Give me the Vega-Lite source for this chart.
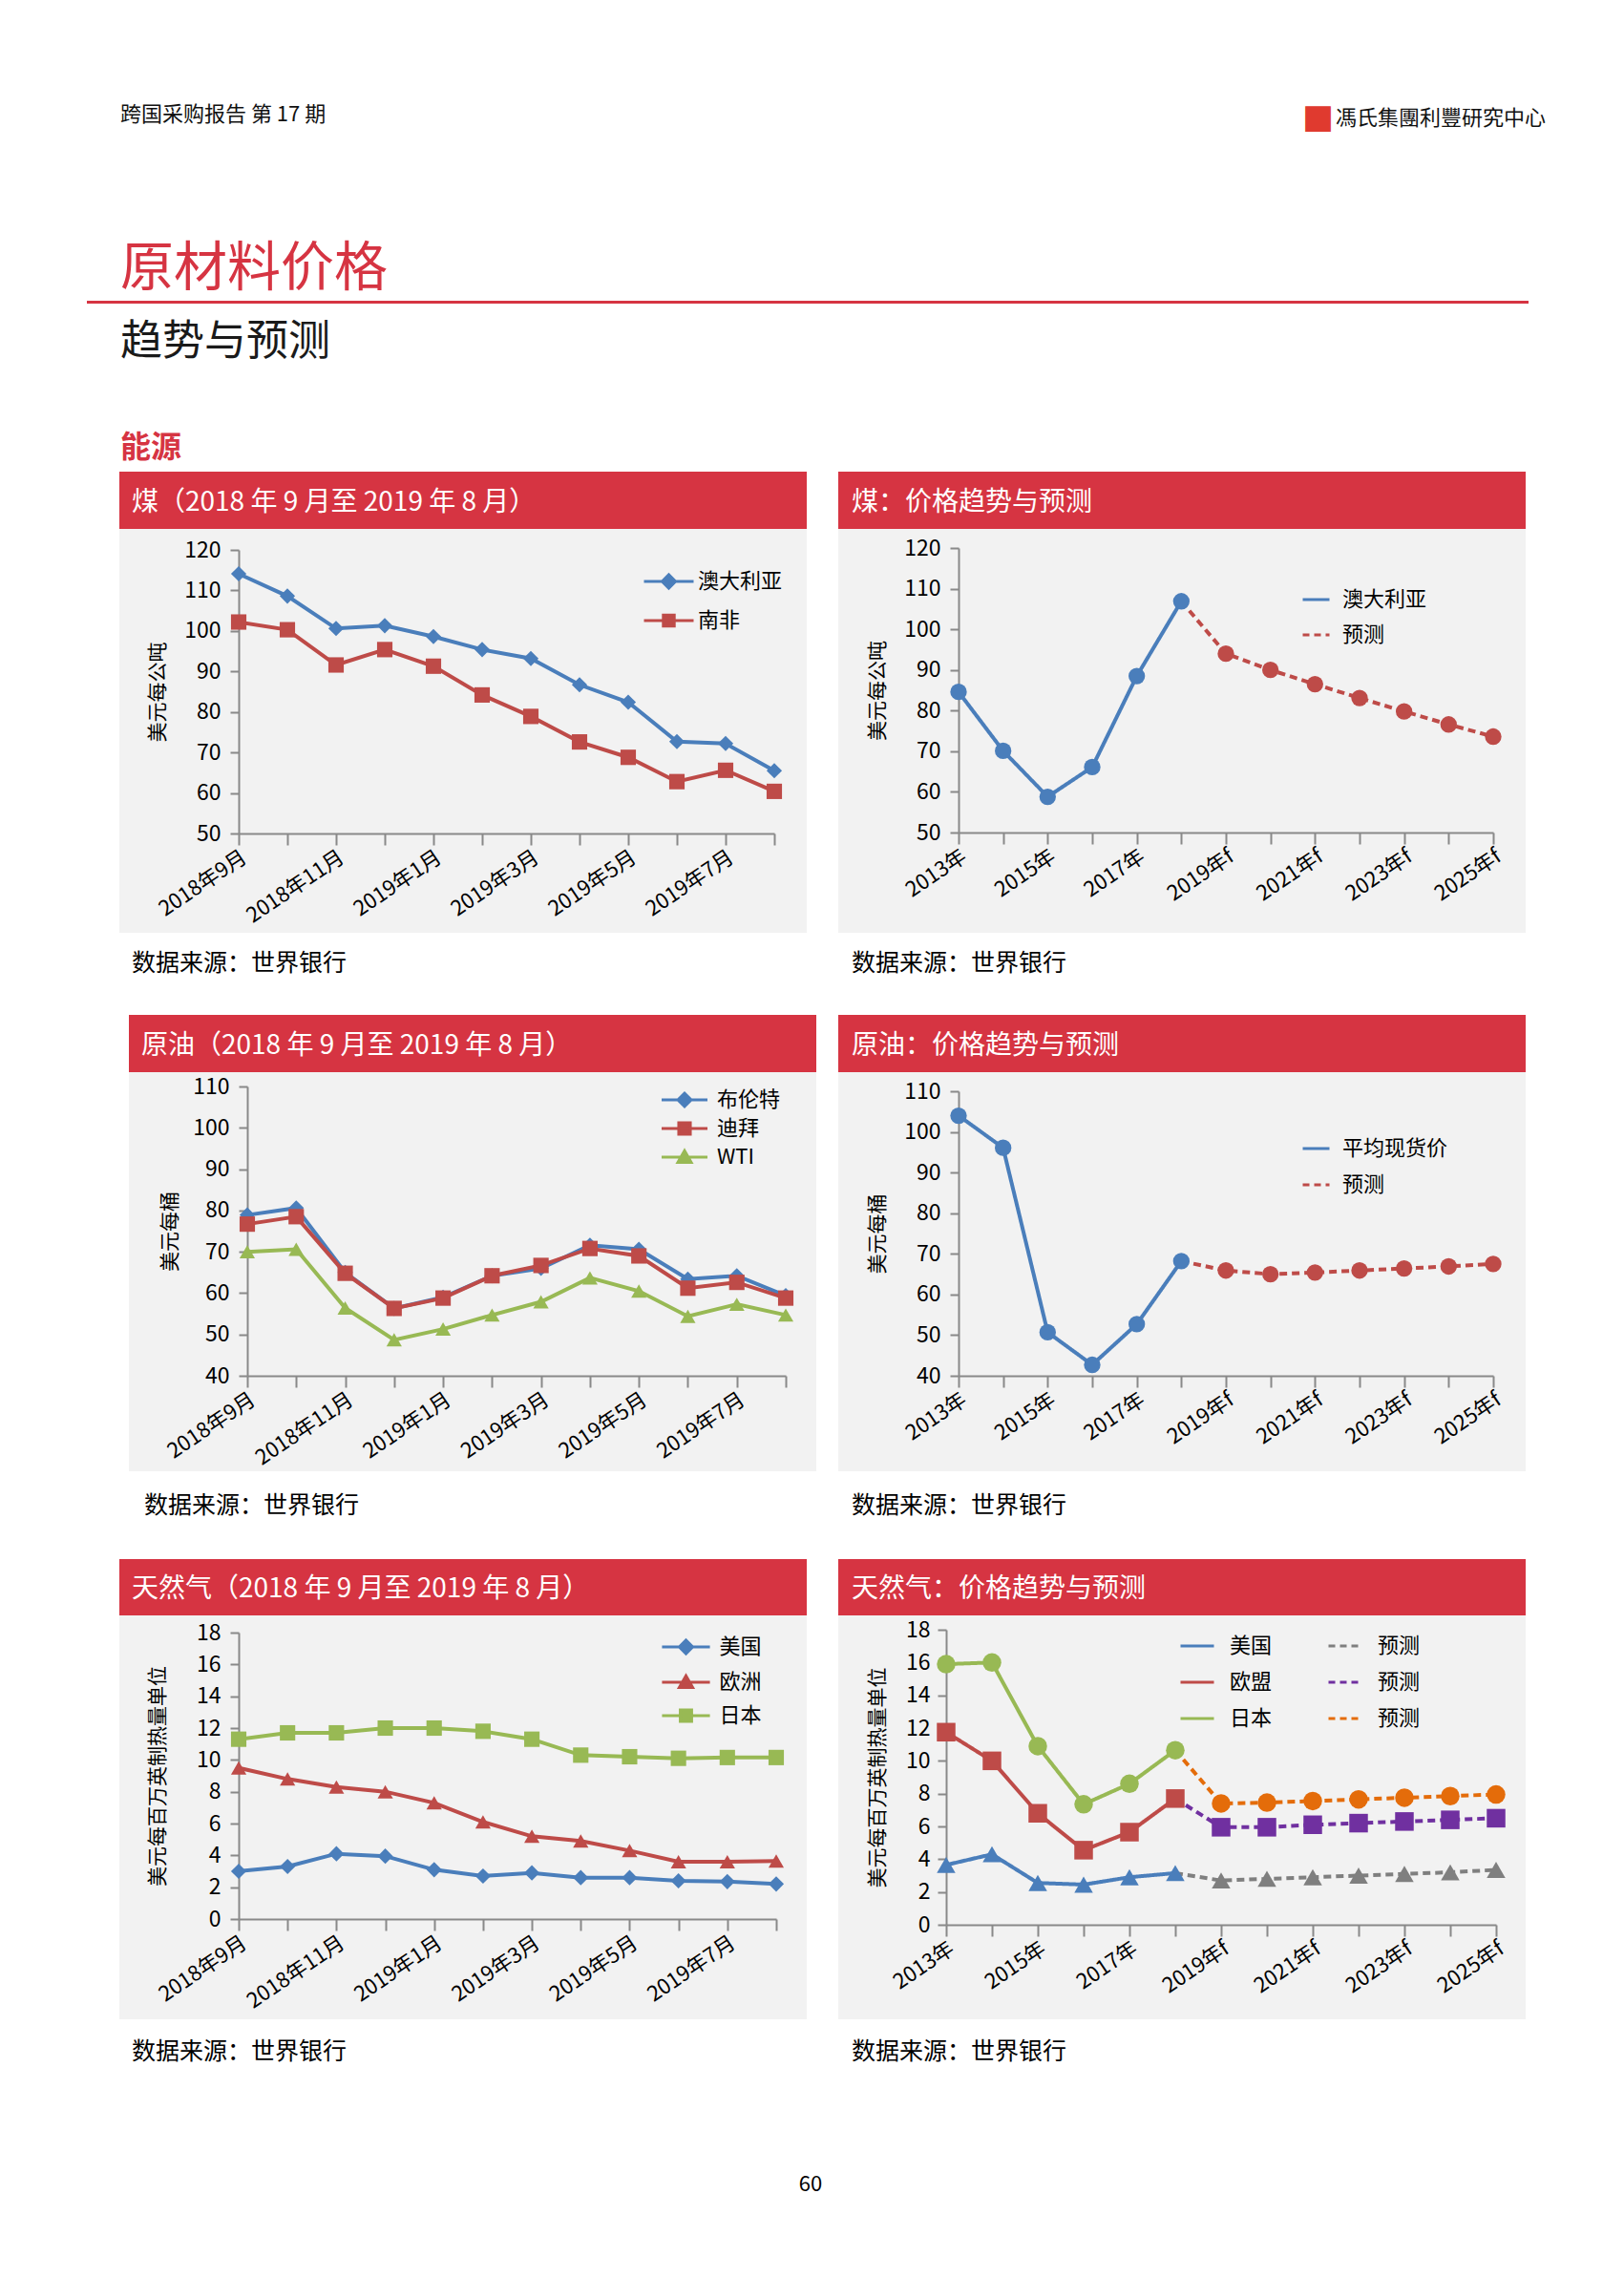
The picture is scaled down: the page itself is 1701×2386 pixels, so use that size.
{
"$schema": "https://vega.github.io/schema/vega-lite/v6.json",
"background": "#ffffff",
"padding": {"left": 91, "top": 0, "right": 0, "bottom": 0},
"config": {
  "view": {"stroke": null},
  "font": "Noto Sans CJK SC",
  "axis": {"grid": false, "domainColor": "#898989", "tickColor": "#898989", "domainWidth": 2, "tickWidth": 2, "labelColor": "#000000", "titleColor": "#000000", "labelFont": "Noto Sans CJK SC", "titleFont": "Noto Sans CJK SC", "labelFontSize": 23, "titleFontSize": 21, "titleFontWeight": "normal"},
  "legend": {"labelFont": "Noto Sans CJK SC", "labelFontSize": 22, "labelColor": "#000000", "padding": 0, "symbolStrokeWidth": 3},
  "title": {"font": "Noto Sans CJK SC", "fontWeight": "normal", "frame": "group", "orient": "top"}
},
"datasets": {
  "blank": [{}],
  "coalM": [
    {"x":"2018年9月","s":"澳大利亚","v":114.1},{"x":"2018年10月","s":"澳大利亚","v":108.6},{"x":"2018年11月","s":"澳大利亚","v":100.6},{"x":"2018年12月","s":"澳大利亚","v":101.3},{"x":"2019年1月","s":"澳大利亚","v":98.6},{"x":"2019年2月","s":"澳大利亚","v":95.4},{"x":"2019年3月","s":"澳大利亚","v":93.2},{"x":"2019年4月","s":"澳大利亚","v":86.7},{"x":"2019年5月","s":"澳大利亚","v":82.4},{"x":"2019年6月","s":"澳大利亚","v":72.7},{"x":"2019年7月","s":"澳大利亚","v":72.2},{"x":"2019年8月","s":"澳大利亚","v":65.5},
    {"x":"2018年9月","s":"南非","v":102.2},{"x":"2018年10月","s":"南非","v":100.3},{"x":"2018年11月","s":"南非","v":91.6},{"x":"2018年12月","s":"南非","v":95.4},{"x":"2019年1月","s":"南非","v":91.3},{"x":"2019年2月","s":"南非","v":84.2},{"x":"2019年3月","s":"南非","v":78.9},{"x":"2019年4月","s":"南非","v":72.6},{"x":"2019年5月","s":"南非","v":68.8},{"x":"2019年6月","s":"南非","v":62.8},{"x":"2019年7月","s":"南非","v":65.6},{"x":"2019年8月","s":"南非","v":60.4}
  ],
  "coalY": [
    {"x":"2013年","s":"澳大利亚","v":84.6},{"x":"2014年","s":"澳大利亚","v":70.1},{"x":"2015年","s":"澳大利亚","v":58.8},{"x":"2016年","s":"澳大利亚","v":66.1},{"x":"2017年","s":"澳大利亚","v":88.5},{"x":"2018年","s":"澳大利亚","v":106.9},
    {"x":"2018年","s":"预测","v":106.9},{"x":"2019年f","s":"预测","v":94.0},{"x":"2020年f","s":"预测","v":90.0},{"x":"2021年f","s":"预测","v":86.5},{"x":"2022年f","s":"预测","v":83.1},{"x":"2023年f","s":"预测","v":79.8},{"x":"2024年f","s":"预测","v":76.6},{"x":"2025年f","s":"预测","v":73.6}
  ],
  "oilM": [
    {"x":"2018年9月","s":"布伦特","v":78.9},{"x":"2018年10月","s":"布伦特","v":80.6},{"x":"2018年11月","s":"布伦特","v":65.0},{"x":"2018年12月","s":"布伦特","v":56.3},{"x":"2019年1月","s":"布伦特","v":59.0},{"x":"2019年2月","s":"布伦特","v":64.2},{"x":"2019年3月","s":"布伦特","v":66.0},{"x":"2019年4月","s":"布伦特","v":71.6},{"x":"2019年5月","s":"布伦特","v":70.6},{"x":"2019年6月","s":"布伦特","v":63.4},{"x":"2019年7月","s":"布伦特","v":64.2},{"x":"2019年8月","s":"布伦特","v":59.4},
    {"x":"2018年9月","s":"迪拜","v":76.7},{"x":"2018年10月","s":"迪拜","v":78.5},{"x":"2018年11月","s":"迪拜","v":64.8},{"x":"2018年12月","s":"迪拜","v":56.3},{"x":"2019年1月","s":"迪拜","v":58.8},{"x":"2019年2月","s":"迪拜","v":64.2},{"x":"2019年3月","s":"迪拜","v":66.7},{"x":"2019年4月","s":"迪拜","v":70.8},{"x":"2019年5月","s":"迪拜","v":69.0},{"x":"2019年6月","s":"迪拜","v":61.2},{"x":"2019年7月","s":"迪拜","v":62.6},{"x":"2019年8月","s":"迪拜","v":58.8},
    {"x":"2018年9月","s":"WTI","v":70.0},{"x":"2018年10月","s":"WTI","v":70.6},{"x":"2018年11月","s":"WTI","v":56.4},{"x":"2018年12月","s":"WTI","v":48.7},{"x":"2019年1月","s":"WTI","v":51.3},{"x":"2019年2月","s":"WTI","v":54.7},{"x":"2019年3月","s":"WTI","v":57.9},{"x":"2019年4月","s":"WTI","v":63.7},{"x":"2019年5月","s":"WTI","v":60.5},{"x":"2019年6月","s":"WTI","v":54.4},{"x":"2019年7月","s":"WTI","v":57.3},{"x":"2019年8月","s":"WTI","v":54.7}
  ],
  "oilY": [
    {"x":"2013年","s":"平均现货价","v":104.0},{"x":"2014年","s":"平均现货价","v":96.1},{"x":"2015年","s":"平均现货价","v":50.7},{"x":"2016年","s":"平均现货价","v":42.7},{"x":"2017年","s":"平均现货价","v":52.7},{"x":"2018年","s":"平均现货价","v":68.2},
    {"x":"2018年","s":"预测","v":68.2},{"x":"2019年f","s":"预测","v":65.9},{"x":"2020年f","s":"预测","v":65.0},{"x":"2021年f","s":"预测","v":65.4},{"x":"2022年f","s":"预测","v":65.9},{"x":"2023年f","s":"预测","v":66.4},{"x":"2024年f","s":"预测","v":66.9},{"x":"2025年f","s":"预测","v":67.5}
  ],
  "gasM": [
    {"x":"2018年9月","s":"美国","v":3.0},{"x":"2018年10月","s":"美国","v":3.3},{"x":"2018年11月","s":"美国","v":4.1},{"x":"2018年12月","s":"美国","v":3.95},{"x":"2019年1月","s":"美国","v":3.1},{"x":"2019年2月","s":"美国","v":2.7},{"x":"2019年3月","s":"美国","v":2.9},{"x":"2019年4月","s":"美国","v":2.6},{"x":"2019年5月","s":"美国","v":2.6},{"x":"2019年6月","s":"美国","v":2.4},{"x":"2019年7月","s":"美国","v":2.35},{"x":"2019年8月","s":"美国","v":2.2},
    {"x":"2018年9月","s":"欧洲","v":9.5},{"x":"2018年10月","s":"欧洲","v":8.8},{"x":"2018年11月","s":"欧洲","v":8.3},{"x":"2018年12月","s":"欧洲","v":8.0},{"x":"2019年1月","s":"欧洲","v":7.3},{"x":"2019年2月","s":"欧洲","v":6.1},{"x":"2019年3月","s":"欧洲","v":5.2},{"x":"2019年4月","s":"欧洲","v":4.9},{"x":"2019年5月","s":"欧洲","v":4.3},{"x":"2019年6月","s":"欧洲","v":3.6},{"x":"2019年7月","s":"欧洲","v":3.6},{"x":"2019年8月","s":"欧洲","v":3.65},
    {"x":"2018年9月","s":"日本","v":11.3},{"x":"2018年10月","s":"日本","v":11.7},{"x":"2018年11月","s":"日本","v":11.7},{"x":"2018年12月","s":"日本","v":12.0},{"x":"2019年1月","s":"日本","v":12.0},{"x":"2019年2月","s":"日本","v":11.8},{"x":"2019年3月","s":"日本","v":11.3},{"x":"2019年4月","s":"日本","v":10.3},{"x":"2019年5月","s":"日本","v":10.2},{"x":"2019年6月","s":"日本","v":10.1},{"x":"2019年7月","s":"日本","v":10.15},{"x":"2019年8月","s":"日本","v":10.15}
  ],
  "gasY": [
    {"x":"2013年","s":"美国","v":3.65},{"x":"2014年","s":"美国","v":4.3},{"x":"2015年","s":"美国","v":2.55},{"x":"2016年","s":"美国","v":2.45},{"x":"2017年","s":"美国","v":2.9},{"x":"2018年","s":"美国","v":3.15},
    {"x":"2018年","s":"预测美","v":3.15},{"x":"2019年f","s":"预测美","v":2.7},{"x":"2020年f","s":"预测美","v":2.8},{"x":"2021年f","s":"预测美","v":2.9},{"x":"2022年f","s":"预测美","v":3.0},{"x":"2023年f","s":"预测美","v":3.1},{"x":"2024年f","s":"预测美","v":3.2},{"x":"2025年f","s":"预测美","v":3.35},
    {"x":"2013年","s":"欧盟","v":11.75},{"x":"2014年","s":"欧盟","v":10.0},{"x":"2015年","s":"欧盟","v":6.8},{"x":"2016年","s":"欧盟","v":4.55},{"x":"2017年","s":"欧盟","v":5.65},{"x":"2018年","s":"欧盟","v":7.7},
    {"x":"2018年","s":"预测欧","v":7.7},{"x":"2019年f","s":"预测欧","v":5.95},{"x":"2020年f","s":"预测欧","v":5.95},{"x":"2021年f","s":"预测欧","v":6.1},{"x":"2022年f","s":"预测欧","v":6.2},{"x":"2023年f","s":"预测欧","v":6.3},{"x":"2024年f","s":"预测欧","v":6.4},{"x":"2025年f","s":"预测欧","v":6.5},
    {"x":"2013年","s":"日本","v":15.9},{"x":"2014年","s":"日本","v":16.0},{"x":"2015年","s":"日本","v":10.9},{"x":"2016年","s":"日本","v":7.35},{"x":"2017年","s":"日本","v":8.6},{"x":"2018年","s":"日本","v":10.65},
    {"x":"2018年","s":"预测日","v":10.65},{"x":"2019年f","s":"预测日","v":7.4},{"x":"2020年f","s":"预测日","v":7.45},{"x":"2021年f","s":"预测日","v":7.55},{"x":"2022年f","s":"预测日","v":7.65},{"x":"2023年f","s":"预测日","v":7.75},{"x":"2024年f","s":"预测日","v":7.85},{"x":"2025年f","s":"预测日","v":7.95}
  ]
},
"spacing": 0,
"resolve": {"scale": {"color": "independent", "shape": "independent", "strokeDash": "independent"}, "legend": {"color": "independent", "shape": "independent", "strokeDash": "independent"}},
"vconcat": [
  {"hconcat": [
    {"width": 1273, "height": 208, "data": {"name": "blank"}, "mark": {"type": "text", "fontSize": 0}, "encoding": {"text": {"value": ""}},
     "title": {"text": "跨国采购报告 第 17 期", "anchor": "start", "offset": -132, "dx": 35, "fontSize": 22, "color": "#111111"}},
    {"width": 28, "height": 208, "data": {"name": "blank"}, "mark": {"type": "text", "fontSize": 0}, "encoding": {"text": {"value": ""}},
     "title": {"text": "■", "anchor": "start", "offset": -141, "dx": -1, "fontSize": 35, "color": "#e03a2f", "font": "DejaVu Sans"}},
    {"width": 209, "height": 208, "data": {"name": "blank"}, "mark": {"type": "text", "fontSize": 0}, "encoding": {"text": {"value": ""}},
     "title": {"text": "馮氏集團利豐研究中心", "anchor": "end", "offset": -136, "dx": 9, "fontSize": 22, "color": "#111111", "font": "Noto Sans CJK TC"}}
  ], "spacing": 0},
  {"width": 1510, "height": 107, "data": {"name": "blank"}, "mark": {"type": "text", "fontSize": 0}, "encoding": {"text": {"value": ""}},
   "title": {"text": "原材料价格", "anchor": "start", "offset": -103, "dx": 35, "fontSize": 56, "color": "#d63442"}},
  {"width": 1510, "height": 3, "view": {"fill": "#d63442", "stroke": null}, "data": {"name": "blank"}, "mark": {"type": "text", "fontSize": 0}, "encoding": {"text": {"value": ""}}},
  {"width": 1510, "height": 120, "data": {"name": "blank"}, "mark": {"type": "text", "fontSize": 0}, "encoding": {"text": {"value": ""}},
   "title": {"text": "趋势与预测", "anchor": "start", "offset": -63, "dx": 35, "fontSize": 44, "color": "#1a1a1a"}},
  {"width": 1510, "height": 56, "data": {"name": "blank"}, "mark": {"type": "text", "fontSize": 0}, "encoding": {"text": {"value": ""}},
   "title": {"text": "能源", "anchor": "start", "offset": -47.9, "dx": 35, "fontSize": 32, "fontWeight": "bold", "color": "#d63442"}},
  {"resolve": {"scale": {"color": "independent", "shape": "independent", "strokeDash": "independent"}, "legend": {"color": "independent", "shape": "independent", "strokeDash": "independent"}},
   "hconcat": [
    {"width": 1, "height": 400, "data": {"name": "blank"}, "mark": {"type": "text", "fontSize": 0}, "encoding": {"text": {"value": ""}}},
    {"resolve": {"scale": {"color": "independent", "shape": "independent", "strokeDash": "independent"}, "legend": {"color": "independent", "shape": "independent", "strokeDash": "independent"}},
     "vconcat": [
      {"width": 720, "height": 60, "view": {"fill": "#d63442", "stroke": null}, "data": {"name": "blank"}, "mark": {"type": "text", "fontSize": 0}, "encoding": {"text": {"value": ""}},
       "title": {"text": "煤（2018 年 9 月至 2019 年 8 月）", "anchor": "start", "offset": -46.5, "dx": 13, "fontSize": 28, "color": "#ffffff"}},
      {"width": 720, "height": 423, "view": {"fill": "#f2f2f2", "stroke": null}, "data": {"name": "coalM"},
       "encoding": {
         "x": {"field": "x", "type": "ordinal", "scale": {"type": "point", "domain": ["2018年9月","2018年10月","2018年11月","2018年12月","2019年1月","2019年2月","2019年3月","2019年4月","2019年5月","2019年6月","2019年7月","2019年8月"], "range": [125, 686], "padding": 0},
               "axis": {"orient": "bottom", "offset": -104, "title": null, "tickSize": 12, "labelPadding": 2, "labelAngle": -34, "labelAlign": "right", "labelBaseline": "top", "labelFontSize": 22, "labelOverlap": false, "labelExpr": "indexof(['2018年9月','2018年11月','2019年1月','2019年3月','2019年5月','2019年7月'], datum.value) >= 0 ? datum.label : ''"}},
         "y": {"field": "v", "type": "quantitative", "scale": {"domain": [50, 120], "range": [319, 22], "nice": false, "zero": false},
               "axis": {"orient": "left", "offset": -125, "values": [50,60,70,80,90,100,110,120], "title": "美元每公吨", "titleX": -85, "titleBaseline": "middle", "tickSize": 9, "labelPadding": 10}},
         "color": {"field": "s", "type": "nominal", "scale": {"domain": ["澳大利亚","南非"], "range": ["#4a7ebb","#be4b48"]},
               "legend": {"title": null, "orient": "none", "legendX": 548, "legendY": 27.5, "symbolType": "M-1,0H1", "symbolSize": 2704, "labelOffset": 3, "rowPadding": 0,
                 "encode": {"symbols": {"update": {
                   "shape": {"signal": "datum.value === '澳大利亚' ? 'M-1,0H1M-0.27,0L0,-0.27L0.27,0L0,0.27Z' : 'M-1,0H1M-0.22,-0.22H0.22V0.22H-0.22Z'"},
                   "fill": {"signal": "datum.value === '澳大利亚' ? '#4a7ebb' : '#be4b48'"},
                   "stroke": {"signal": "datum.value === '澳大利亚' ? '#4a7ebb' : '#be4b48'"},
                   "opacity": {"value": 1}}}}}}
       },
       "layer": [
         {"mark": {"type": "line", "strokeWidth": 4}, "encoding": {"order": {"value": null}}},
         {"mark": {"type": "point", "filled": true, "opacity": 1, "size": 260}, "encoding": {"shape": {"field": "s", "type": "nominal", "scale": {"domain": ["南非","澳大利亚"], "range": ["square","diamond"]}, "legend": null}}}
       ]},
      {"width": 720, "height": 86, "data": {"name": "blank"}, "mark": {"type": "text", "fontSize": 0}, "encoding": {"text": {"value": ""}},
       "title": {"text": "数据来源：世界银行", "anchor": "start", "offset": -44.75, "dx": 13, "fontSize": 25, "color": "#000000"}}
    ], "spacing": 0},
    {"resolve": {"scale": {"color": "independent", "shape": "independent", "strokeDash": "independent"}, "legend": {"color": "independent", "shape": "independent", "strokeDash": "independent"}},
     "vconcat": [
      {"width": 720, "height": 60, "view": {"fill": "#d63442", "stroke": null}, "data": {"name": "blank"}, "mark": {"type": "text", "fontSize": 0}, "encoding": {"text": {"value": ""}},
       "title": {"text": "煤：价格趋势与预测", "anchor": "start", "offset": -46.5, "dx": 14, "fontSize": 28, "color": "#ffffff"}},
      {"width": 720, "height": 423, "view": {"fill": "#f2f2f2", "stroke": null}, "data": {"name": "coalY"},
       "encoding": {
         "x": {"field": "x", "type": "ordinal", "scale": {"type": "point", "domain": ["2013年","2014年","2015年","2016年","2017年","2018年","2019年f","2020年f","2021年f","2022年f","2023年f","2024年f","2025年f"], "range": [126, 686], "padding": 0},
               "axis": {"orient": "bottom", "offset": -105, "title": null, "tickSize": 12, "labelPadding": 2, "labelAngle": -34, "labelAlign": "right", "labelBaseline": "top", "labelFontSize": 22, "labelOverlap": false, "labelExpr": "indexof(['2013年','2015年','2017年','2019年f','2021年f','2023年f','2025年f'], datum.value) >= 0 ? datum.label : ''"}},
         "y": {"field": "v", "type": "quantitative", "scale": {"domain": [50, 120], "range": [318, 20], "nice": false, "zero": false},
               "axis": {"orient": "left", "offset": -126, "values": [50,60,70,80,90,100,110,120], "title": "美元每公吨", "titleX": -85, "titleBaseline": "middle", "tickSize": 9, "labelPadding": 10}},
         "color": {"field": "s", "type": "nominal", "scale": {"domain": ["澳大利亚","预测"], "range": ["#4a7ebb","#be4b48"]},
               "legend": {"title": null, "orient": "none", "legendX": 485, "legendY": 58.5, "symbolType": "M-1,0H1", "symbolSize": 784, "labelOffset": 12, "rowPadding": 10,
                 "encode": {"symbols": {"update": {
                   "stroke": {"signal": "datum.value === '预测' ? '#be4b48' : '#4a7ebb'"},
                   "strokeDash": {"signal": "datum.value === '预测' ? [7,5] : [1,0]"},
                   "fill": {"value": "transparent"},
                   "opacity": {"value": 1}}}}}}
       },
       "layer": [
         {"mark": {"type": "line", "strokeWidth": 4}, "encoding": {"order": {"value": null}, "strokeDash": {"field": "s", "type": "nominal", "scale": {"domain": ["预测","澳大利亚"], "range": [[8,5],[1,0]]}, "legend": null}}},
         {"transform": [{"filter": "datum.s !== '预测' || datum.x !== '2018年'"}],
          "mark": {"type": "point", "filled": true, "opacity": 1, "size": 300, "shape": "circle"}}
       ]},
      {"width": 720, "height": 86, "data": {"name": "blank"}, "mark": {"type": "text", "fontSize": 0}, "encoding": {"text": {"value": ""}},
       "title": {"text": "数据来源：世界银行", "anchor": "start", "offset": -44.75, "dx": 14, "fontSize": 25, "color": "#000000"}}
    ], "spacing": 0}
  ], "spacing": 33},
  {"resolve": {"scale": {"color": "independent", "shape": "independent", "strokeDash": "independent"}, "legend": {"color": "independent", "shape": "independent", "strokeDash": "independent"}},
   "hconcat": [
    {"width": 21, "height": 400, "data": {"name": "blank"}, "mark": {"type": "text", "fontSize": 0}, "encoding": {"text": {"value": ""}}},
    {"resolve": {"scale": {"color": "independent", "shape": "independent", "strokeDash": "independent"}, "legend": {"color": "independent", "shape": "independent", "strokeDash": "independent"}},
     "vconcat": [
      {"width": 720, "height": 60, "view": {"fill": "#d63442", "stroke": null}, "data": {"name": "blank"}, "mark": {"type": "text", "fontSize": 0}, "encoding": {"text": {"value": ""}},
       "title": {"text": "原油（2018 年 9 月至 2019 年 8 月）", "anchor": "start", "offset": -46.5, "dx": 13, "fontSize": 28, "color": "#ffffff"}},
      {"width": 720, "height": 418, "view": {"fill": "#f2f2f2", "stroke": null}, "data": {"name": "oilM"},
       "encoding": {
         "x": {"field": "x", "type": "ordinal", "scale": {"type": "point", "domain": ["2018年9月","2018年10月","2018年11月","2018年12月","2019年1月","2019年2月","2019年3月","2019年4月","2019年5月","2019年6月","2019年7月","2019年8月"], "range": [124, 688], "padding": 0},
               "axis": {"orient": "bottom", "offset": -100, "title": null, "tickSize": 12, "labelPadding": 2, "labelAngle": -34, "labelAlign": "right", "labelBaseline": "top", "labelFontSize": 22, "labelOverlap": false, "labelExpr": "indexof(['2018年9月','2018年11月','2019年1月','2019年3月','2019年5月','2019年7月'], datum.value) >= 0 ? datum.label : ''"}},
         "y": {"field": "v", "type": "quantitative", "scale": {"domain": [40, 110], "range": [318, 15], "nice": false, "zero": false},
               "axis": {"orient": "left", "offset": -124, "values": [40,50,60,70,80,90,100,110], "title": "美元每桶", "titleX": -81, "titleBaseline": "middle", "tickSize": 9, "labelPadding": 10}},
         "color": {"field": "s", "type": "nominal", "scale": {"domain": ["布伦特","迪拜","WTI"], "range": ["#4a7ebb","#be4b48","#98b954"]},
               "legend": {"title": null, "orient": "none", "legendX": 565, "legendY": 12, "symbolType": "M-1,0H1", "symbolSize": 961, "labelOffset": 17, "rowPadding": 0,
                 "encode": {"symbols": {"update": {
                   "shape": {"signal": "datum.value === '布伦特' ? 'M-1.55,0H1.55M-0.45,0L0,-0.45L0.45,0L0,0.45Z' : datum.value === '迪拜' ? 'M-1.55,0H1.55M-0.39,-0.39H0.39V0.39H-0.39Z' : 'M-1.55,0H1.55M-0.45,0.35L0,-0.43L0.45,0.35Z'"},
                   "fill": {"signal": "datum.value === '布伦特' ? '#4a7ebb' : datum.value === '迪拜' ? '#be4b48' : '#98b954'"},
                   "stroke": {"signal": "datum.value === '布伦特' ? '#4a7ebb' : datum.value === '迪拜' ? '#be4b48' : '#98b954'"},
                   "opacity": {"value": 1}}}}}}
       },
       "layer": [
         {"mark": {"type": "line", "strokeWidth": 4}, "encoding": {"order": {"value": null}}},
         {"mark": {"type": "point", "filled": true, "opacity": 1, "size": 260}, "encoding": {"shape": {"field": "s", "type": "nominal", "scale": {"domain": ["WTI","迪拜","布伦特"], "range": ["triangle-up","square","diamond"]}, "legend": null}}}
       ]},
      {"width": 720, "height": 92, "data": {"name": "blank"}, "mark": {"type": "text", "fontSize": 0}, "encoding": {"text": {"value": ""}},
       "title": {"text": "数据来源：世界银行", "anchor": "start", "offset": -48.75, "dx": 16, "fontSize": 25, "color": "#000000"}}
    ], "spacing": 0},
    {"resolve": {"scale": {"color": "independent", "shape": "independent", "strokeDash": "independent"}, "legend": {"color": "independent", "shape": "independent", "strokeDash": "independent"}},
     "vconcat": [
      {"width": 720, "height": 60, "view": {"fill": "#d63442", "stroke": null}, "data": {"name": "blank"}, "mark": {"type": "text", "fontSize": 0}, "encoding": {"text": {"value": ""}},
       "title": {"text": "原油：价格趋势与预测", "anchor": "start", "offset": -46.5, "dx": 14, "fontSize": 28, "color": "#ffffff"}},
      {"width": 720, "height": 418, "view": {"fill": "#f2f2f2", "stroke": null}, "data": {"name": "oilY"},
       "encoding": {
         "x": {"field": "x", "type": "ordinal", "scale": {"type": "point", "domain": ["2013年","2014年","2015年","2016年","2017年","2018年","2019年f","2020年f","2021年f","2022年f","2023年f","2024年f","2025年f"], "range": [126, 686], "padding": 0},
               "axis": {"orient": "bottom", "offset": -100, "title": null, "tickSize": 12, "labelPadding": 2, "labelAngle": -34, "labelAlign": "right", "labelBaseline": "top", "labelFontSize": 22, "labelOverlap": false, "labelExpr": "indexof(['2013年','2015年','2017年','2019年f','2021年f','2023年f','2025年f'], datum.value) >= 0 ? datum.label : ''"}},
         "y": {"field": "v", "type": "quantitative", "scale": {"domain": [40, 110], "range": [318, 20], "nice": false, "zero": false},
               "axis": {"orient": "left", "offset": -126, "values": [40,50,60,70,80,90,100,110], "title": "美元每桶", "titleX": -85, "titleBaseline": "middle", "tickSize": 9, "labelPadding": 10}},
         "color": {"field": "s", "type": "nominal", "scale": {"domain": ["平均现货价","预测"], "range": ["#4a7ebb","#be4b48"]},
               "legend": {"title": null, "orient": "none", "legendX": 485, "legendY": 64.5, "symbolType": "M-1,0H1", "symbolSize": 784, "labelOffset": 12, "rowPadding": 11,
                 "encode": {"symbols": {"update": {
                   "stroke": {"signal": "datum.value === '预测' ? '#be4b48' : '#4a7ebb'"},
                   "strokeDash": {"signal": "datum.value === '预测' ? [7,5] : [1,0]"},
                   "fill": {"value": "transparent"},
                   "opacity": {"value": 1}}}}}}
       },
       "layer": [
         {"mark": {"type": "line", "strokeWidth": 4}, "encoding": {"order": {"value": null}, "strokeDash": {"field": "s", "type": "nominal", "scale": {"domain": ["预测","平均现货价"], "range": [[8,5],[1,0]]}, "legend": null}}},
         {"transform": [{"filter": "datum.s !== '预测' || datum.x !== '2018年'"}],
          "mark": {"type": "point", "filled": true, "opacity": 1, "size": 300, "shape": "circle"}}
       ]},
      {"width": 720, "height": 92, "data": {"name": "blank"}, "mark": {"type": "text", "fontSize": 0}, "encoding": {"text": {"value": ""}},
       "title": {"text": "数据来源：世界银行", "anchor": "start", "offset": -48.75, "dx": 14, "fontSize": 25, "color": "#000000"}}
    ], "spacing": 0}
  ], "spacing": 23},
  {"resolve": {"scale": {"color": "independent", "shape": "independent", "strokeDash": "independent"}, "legend": {"color": "independent", "shape": "independent", "strokeDash": "independent"}},
   "hconcat": [
    {"width": 1, "height": 400, "data": {"name": "blank"}, "mark": {"type": "text", "fontSize": 0}, "encoding": {"text": {"value": ""}}},
    {"resolve": {"scale": {"color": "independent", "shape": "independent", "strokeDash": "independent"}, "legend": {"color": "independent", "shape": "independent", "strokeDash": "independent"}},
     "vconcat": [
      {"width": 720, "height": 59, "view": {"fill": "#d63442", "stroke": null}, "data": {"name": "blank"}, "mark": {"type": "text", "fontSize": 0}, "encoding": {"text": {"value": ""}},
       "title": {"text": "天然气（2018 年 9 月至 2019 年 8 月）", "anchor": "start", "offset": -46, "dx": 13, "fontSize": 28, "color": "#ffffff"}},
      {"width": 720, "height": 423, "view": {"fill": "#f2f2f2", "stroke": null}, "data": {"name": "gasM"},
       "encoding": {
         "x": {"field": "x", "type": "ordinal", "scale": {"type": "point", "domain": ["2018年9月","2018年10月","2018年11月","2018年12月","2019年1月","2019年2月","2019年3月","2019年4月","2019年5月","2019年6月","2019年7月","2019年8月"], "range": [125, 688], "padding": 0},
               "axis": {"orient": "bottom", "offset": -105, "title": null, "tickSize": 12, "labelPadding": 2, "labelAngle": -34, "labelAlign": "right", "labelBaseline": "top", "labelFontSize": 22, "labelOverlap": false, "labelExpr": "indexof(['2018年9月','2018年11月','2019年1月','2019年3月','2019年5月','2019年7月'], datum.value) >= 0 ? datum.label : ''"}},
         "y": {"field": "v", "type": "quantitative", "scale": {"domain": [0, 18], "range": [318, 18], "nice": false, "zero": false},
               "axis": {"orient": "left", "offset": -125, "values": [0,2,4,6,8,10,12,14,16,18], "title": "美元每百万英制热量单位", "titleX": -85, "titleBaseline": "middle", "tickSize": 9, "labelPadding": 10}},
         "color": {"field": "s", "type": "nominal", "scale": {"domain": ["美国","欧洲","日本"], "range": ["#4a7ebb","#be4b48","#98b954"]},
               "legend": {"title": null, "orient": "none", "legendX": 570, "legendY": 9.5, "symbolType": "M-1,0H1", "symbolSize": 1936, "labelOffset": 11.5, "rowPadding": 0,
                 "encode": {"symbols": {"update": {
                   "shape": {"signal": "datum.value === '美国' ? 'M-1.14,0H1.14M-0.32,0L0,-0.32L0.32,0L0,0.32Z' : datum.value === '欧洲' ? 'M-1.14,0H1.14M-0.32,0.25L0,-0.31L0.32,0.25Z' : 'M-1.14,0H1.14M-0.27,-0.27H0.27V0.27H-0.27Z'"},
                   "fill": {"signal": "datum.value === '美国' ? '#4a7ebb' : datum.value === '欧洲' ? '#be4b48' : '#98b954'"},
                   "stroke": {"signal": "datum.value === '美国' ? '#4a7ebb' : datum.value === '欧洲' ? '#be4b48' : '#98b954'"},
                   "opacity": {"value": 1}}}}}}
       },
       "layer": [
         {"mark": {"type": "line", "strokeWidth": 4}, "encoding": {"order": {"value": null}}},
         {"mark": {"type": "point", "filled": true, "opacity": 1, "size": 260}, "encoding": {"shape": {"field": "s", "type": "nominal", "scale": {"domain": ["日本","欧洲","美国"], "range": ["square","triangle-up","diamond"]}, "legend": null}}}
       ]},
      {"width": 720, "height": 150, "data": {"name": "blank"}, "mark": {"type": "text", "fontSize": 0}, "encoding": {"text": {"value": ""}},
       "title": {"text": "数据来源：世界银行", "anchor": "start", "offset": -46.75, "dx": 13, "fontSize": 25, "color": "#000000"}}
    ], "spacing": 0},
    {"resolve": {"scale": {"color": "independent", "shape": "independent", "strokeDash": "independent"}, "legend": {"color": "independent", "shape": "independent", "strokeDash": "independent"}},
     "vconcat": [
      {"width": 720, "height": 59, "view": {"fill": "#d63442", "stroke": null}, "data": {"name": "blank"}, "mark": {"type": "text", "fontSize": 0}, "encoding": {"text": {"value": ""}},
       "title": {"text": "天然气：价格趋势与预测", "anchor": "start", "offset": -46, "dx": 14, "fontSize": 28, "color": "#ffffff"}},
      {"width": 720, "height": 423, "view": {"fill": "#f2f2f2", "stroke": null}, "data": {"name": "gasY"},
       "encoding": {
         "x": {"field": "x", "type": "ordinal", "scale": {"type": "point", "domain": ["2013年","2014年","2015年","2016年","2017年","2018年","2019年f","2020年f","2021年f","2022年f","2023年f","2024年f","2025年f"], "range": [113, 689], "padding": 0},
               "axis": {"orient": "bottom", "offset": -99, "title": null, "tickSize": 12, "labelPadding": 2, "labelAngle": -34, "labelAlign": "right", "labelBaseline": "top", "labelFontSize": 22, "labelOverlap": false, "labelExpr": "indexof(['2013年','2015年','2017年','2019年f','2021年f','2023年f','2025年f'], datum.value) >= 0 ? datum.label : ''"}},
         "y": {"field": "v", "type": "quantitative", "scale": {"domain": [0, 18], "range": [324, 15], "nice": false, "zero": false},
               "axis": {"orient": "left", "offset": -113, "values": [0,2,4,6,8,10,12,14,16,18], "title": "美元每百万英制热量单位", "titleX": -72, "titleBaseline": "middle", "tickSize": 9, "labelPadding": 8}},
         "color": {"field": "s", "type": "nominal", "scale": {"domain": ["美国","欧盟","日本","预测美","预测欧","预测日"], "range": ["#4a7ebb","#be4b48","#98b954","#7f7f7f","#7030a0","#e46c0a"]},
               "legend": {"title": null, "orient": "none", "legendX": 357, "legendY": 13, "columns": 2, "columnPadding": 52, "symbolType": "M-1,0H1", "symbolSize": 1225, "labelOffset": 15, "rowPadding": 8,
                 "labelExpr": "indexof(datum.label, '预测') === 0 ? '预测' : datum.label",
                 "encode": {"symbols": {"update": {
                   "stroke": {"signal": "datum.value === '美国' ? '#4a7ebb' : datum.value === '欧盟' ? '#be4b48' : datum.value === '日本' ? '#98b954' : datum.value === '预测美' ? '#7f7f7f' : datum.value === '预测欧' ? '#7030a0' : '#e46c0a'"},
                   "strokeDash": {"signal": "indexof(datum.value, '预测') === 0 ? [7,5] : [1,0]"},
                   "fill": {"value": "transparent"},
                   "opacity": {"value": 1}}}}}}
       },
       "layer": [
         {"mark": {"type": "line", "strokeWidth": 4}, "encoding": {"order": {"value": null}, "strokeDash": {"field": "s", "type": "nominal", "scale": {"domain": ["预测日","日本","预测欧","欧盟","预测美","美国"], "range": [[8,5],[1,0],[8,5],[1,0],[8,5],[1,0]]}, "legend": null}}},
         {"transform": [{"filter": "indexof(datum.s, '预测') !== 0 || datum.x !== '2018年'"}],
          "mark": {"type": "point", "filled": true, "opacity": 1, "size": 380}, "encoding": {"shape": {"field": "s", "type": "nominal", "scale": {"domain": ["预测日","日本","预测欧","欧盟","预测美","美国"], "range": ["circle","circle","square","square","triangle-up","triangle-up"]}, "legend": null}}}
       ]},
      {"width": 720, "height": 150, "data": {"name": "blank"}, "mark": {"type": "text", "fontSize": 0}, "encoding": {"text": {"value": ""}},
       "title": {"text": "数据来源：世界银行", "anchor": "start", "offset": -46.75, "dx": 14, "fontSize": 25, "color": "#000000"}}
    ], "spacing": 0}
  ], "spacing": 33},
  {"width": 1510, "height": 50, "data": {"name": "blank"}, "mark": {"type": "text", "fontSize": 0}, "encoding": {"text": {"value": ""}},
   "title": {"text": "60", "anchor": "middle", "offset": -35, "dx": 3, "fontSize": 22, "color": "#000000"}}
]
}
